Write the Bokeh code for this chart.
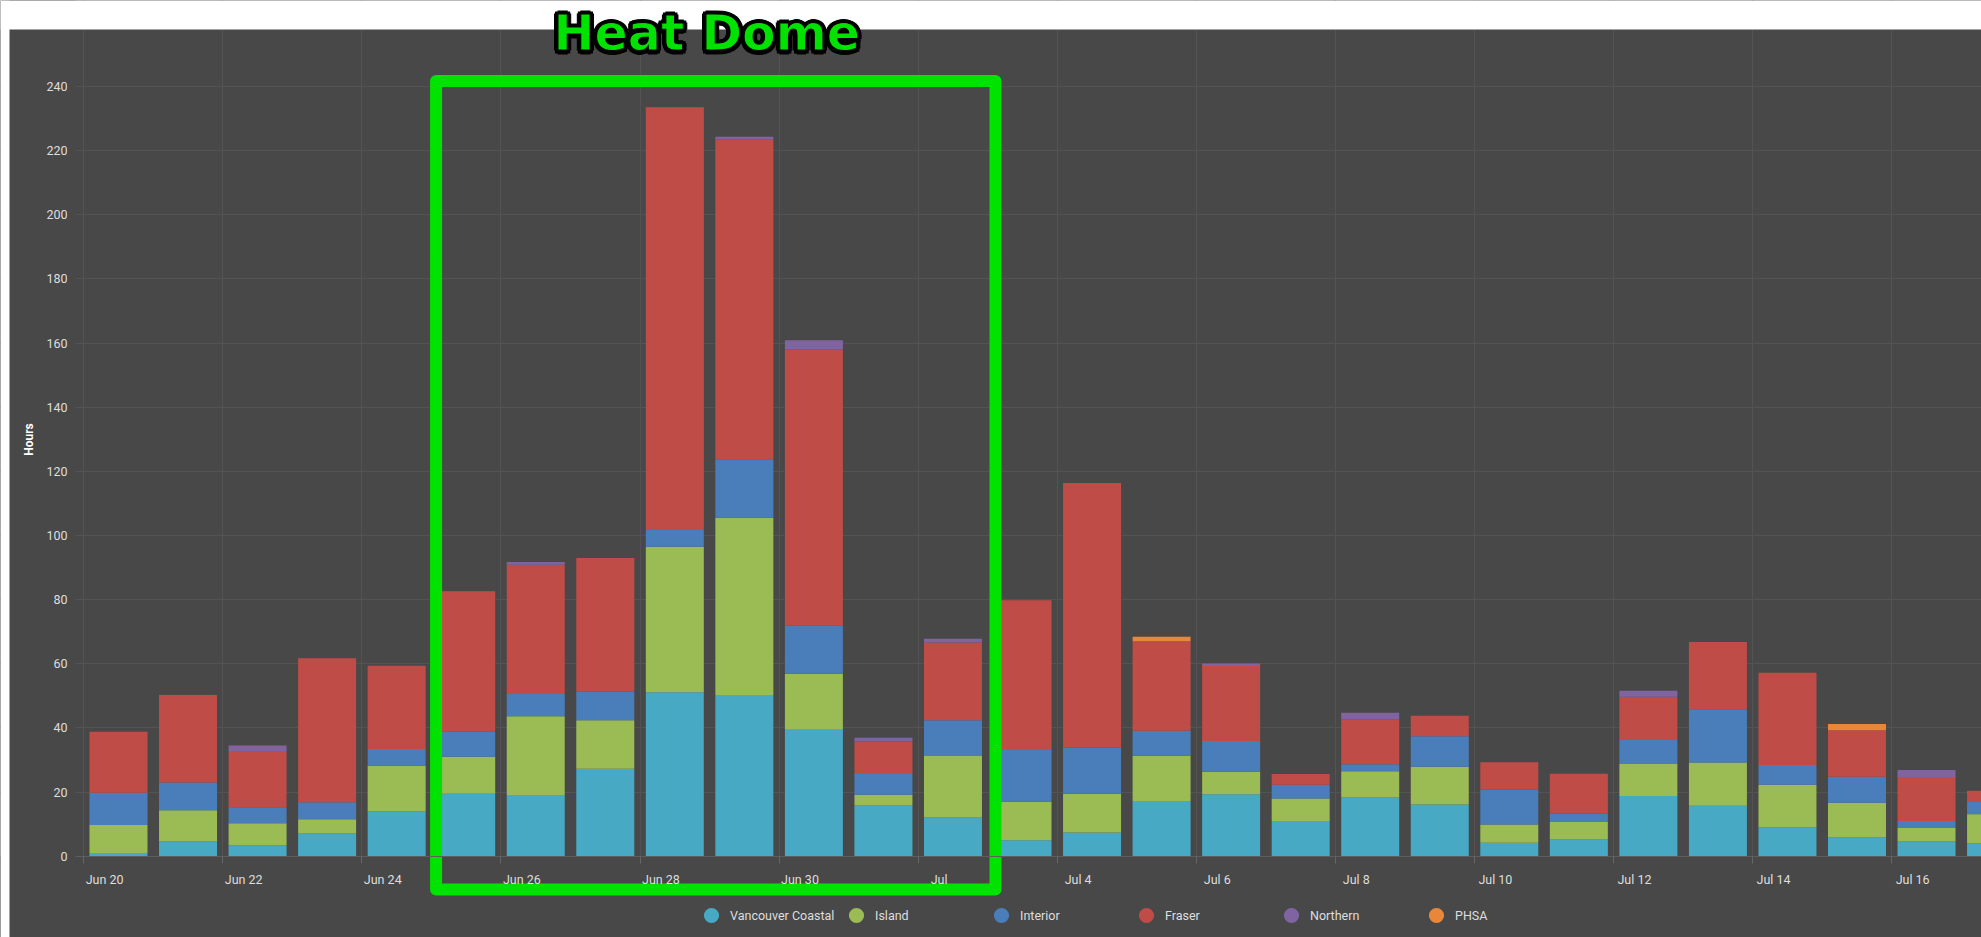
from bokeh.plotting import figure
from bokeh.models import (Range1d, FixedTicker, ColumnDataSource, Legend,
                          LegendItem, LinearAxis, Grid)
from bokeh.core.properties import value
from bokeh.embed import file_html
from bokeh.resources import INLINE

# ---------------- data ----------------
days = ["Jun 20", "Jun 21", "Jun 22", "Jun 23", "Jun 24", "Jun 25", "Jun 26",
        "Jun 27", "Jun 28", "Jun 29", "Jun 30", "Jul 1", "Jul 2", "Jul 3",
        "Jul 4", "Jul 5", "Jul 6", "Jul 7", "Jul 8", "Jul 9", "Jul 10",
        "Jul 11", "Jul 12", "Jul 13", "Jul 14", "Jul 15", "Jul 16", "Jul 17"]

vancouver_coastal = [1.0, 4.7, 3.4, 7.1, 13.9, 19.5, 19.1, 27.3, 51.1, 50.3, 39.4, 15.8, 12.1, 5.0,
                     7.4, 17.2, 19.3, 11.0, 18.3, 16.1, 4.2, 5.2, 18.8, 15.7, 9.0, 5.9, 4.6, 4.0]
island = [8.7, 9.6, 6.9, 4.4, 14.3, 11.5, 24.5, 15.1, 45.4, 55.2, 17.5, 3.4, 19.3, 12.0,
          12.1, 14.1, 7.0, 7.0, 8.2, 11.8, 5.7, 5.5, 10.1, 13.5, 13.3, 10.8, 4.2, 9.1]
interior = [10.1, 8.7, 5.0, 5.3, 5.2, 7.8, 7.0, 8.9, 5.2, 18.3, 15.0, 6.4, 11.0, 16.1,
            14.3, 7.8, 9.6, 4.3, 2.2, 9.5, 10.9, 2.5, 7.3, 16.6, 6.1, 8.1, 2.2, 3.8]
fraser = [19.0, 27.3, 17.5, 44.9, 26.0, 43.8, 40.3, 41.7, 131.8, 99.7, 86.1, 10.2, 24.2, 46.7,
          82.6, 27.9, 23.4, 3.3, 13.9, 6.4, 8.5, 12.5, 13.5, 21.0, 28.8, 14.5, 13.7, 3.5]
northern = [0, 0, 1.7, 0, 0, 0, 0.8, 0, 0, 0.8, 2.9, 1.1, 1.2, 0,
            0, 0, 0.8, 0, 2.1, 0, 0, 0, 1.9, 0, 0, 0, 2.2, 0]
phsa = [0, 0, 0, 0, 0, 0, 0, 0, 0, 0, 0, 0, 0, 0,
        0, 1.4, 0, 0, 0, 0, 0, 0, 0, 0, 0, 1.9, 0, 0]

series = ["Vancouver Coastal", "Island", "Interior", "Fraser", "Northern", "PHSA"]
colors = ["#48A9C5", "#9BBB55", "#4A7EBB", "#C04C48", "#8064A2", "#E8873A"]

tick_labels = ["Jun 20", "Jun 22", "Jun 24", "Jun 26", "Jun 28", "Jun 30", "Jul",
               "Jul 4", "Jul 6", "Jul 8", "Jul 10", "Jul 12", "Jul 14", "Jul 16"]
y_ticks = [0, 20, 40, 60, 80, 100, 120, 140, 160, 180, 200, 220, 240]

annotation_text = "Heat Dome"
y_title = "Hours"

# ---------------- layout constants ----------------
W, H = 1981, 937
DAY_PX = 69.54          # pixels per day
Y_PX = 3.207            # pixels per hour
X_START = -118 / DAY_PX  # data x at the left edge of the canvas
Y_ZERO_PX = 855.7       # canvas y of value 0 (from top)
X_END = X_START + W / DAY_PX
Y_END = Y_ZERO_PX / Y_PX
Y_START = Y_END - H / Y_PX
PLOT_LEFT = -0.618      # data x where the plotting area begins
PLOT_TOP = Y_END - 29 / Y_PX   # white strip above the chart
LEFT_WHITE = X_START + 9 / DAY_PX

BG = "#484848"
GRID = "#535353"
TXT = "#dedede"
GREEN = "#00E300"
FONT = "Roboto"

x = list(range(len(days)))
src = ColumnDataSource(dict(x=x, **{
    "Vancouver Coastal": vancouver_coastal, "Island": island, "Interior": interior,
    "Fraser": fraser, "Northern": northern, "PHSA": phsa}))

p = figure(width=W, height=H, x_range=Range1d(X_START, X_END),
           y_range=Range1d(Y_START, Y_END), x_axis_type=None, y_axis_type=None,
           output_backend="svg", toolbar_location=None, min_border=0,
           background_fill_color=BG, border_fill_color=BG, outline_line_color=None)

boundaries = [i - 0.5 for i in range(0, len(days), 2)]
label_ticks = [round(b + 0.3, 2) for b in boundaries]

p.add_layout(Grid(dimension=0, ticker=FixedTicker(ticks=boundaries),
                  grid_line_color=GRID, grid_line_width=1))
p.add_layout(Grid(dimension=1, ticker=FixedTicker(ticks=y_ticks),
                  grid_line_color=GRID, grid_line_width=1))

# covers outside the plotting area
p.quad(left=X_START, right=PLOT_LEFT, bottom=Y_START, top=Y_END, color=BG, line_color=None)
p.quad(left=X_START, right=X_END, bottom=Y_START, top=0, color=BG, line_color=None)
p.quad(left=X_START, right=X_END, bottom=PLOT_TOP, top=Y_END, color="white", line_color=None)
p.quad(left=X_START, right=LEFT_WHITE, bottom=Y_START, top=Y_END, color="white", line_color=None)

p.vbar_stack(series, x="x", width=0.834, source=src, fill_color=colors, line_color=None)

# axes
xaxis = LinearAxis(ticker=FixedTicker(ticks=label_ticks, minor_ticks=boundaries),
                   fixed_location=0, bounds=(PLOT_LEFT, X_END),
                   major_label_overrides={t: l for t, l in zip(label_ticks, tick_labels)},
                   axis_line_color="#5e5e5e", major_tick_line_color=None,
                   major_tick_out=0, major_tick_in=0,
                   minor_tick_line_color="#666666", minor_tick_out=7, minor_tick_in=0,
                   major_label_standoff=9, major_label_text_color=TXT,
                   major_label_text_font=FONT, major_label_text_font_size="12.5px")
p.add_layout(xaxis, "below")

yaxis = LinearAxis(ticker=FixedTicker(ticks=y_ticks), fixed_location=PLOT_LEFT,
                   bounds=(0, 260),
                   axis_line_color=None, major_tick_line_color=None, minor_tick_line_color=None,
                   major_tick_out=0, major_tick_in=0, major_label_standoff=8,
                   major_label_text_color=TXT, major_label_text_font=FONT,
                   major_label_text_font_size="12.5px",
                   axis_label=y_title, axis_label_text_color="white",
                   axis_label_text_font=FONT, axis_label_text_font_style="bold",
                   axis_label_text_font_size="12px", axis_label_standoff=7)
p.add_layout(yaxis, "left")

# heat dome annotation
p.quad(left=4.567, right=12.611, bottom=-10.4, top=241.7, fill_alpha=0,
       line_color=GREEN, line_width=12, line_join="round")
TX, TY = 8.46, Y_END - 33 / Y_PX
offs = [(3.5, 0), (-3.5, 0), (0, 3.5), (0, -3.5), (2.5, 2.5), (-2.5, 2.5), (2.5, -2.5), (-2.5, -2.5)]
shadow = ColumnDataSource(dict(x=[TX] * len(offs), y=[TY] * len(offs),
                               t=[annotation_text] * len(offs),
                               dx=[o[0] for o in offs], dy=[o[1] for o in offs]))
p.text(x="x", y="y", text="t", x_offset="dx", y_offset="dy", source=shadow,
       text_align="center", text_baseline="middle", text_font=value("DejaVu Sans"),
       text_font_style="bold", text_font_size="49px", text_color="black",
       text_outline_color="black")
p.text(x=[TX], y=[TY], text=[annotation_text], text_align="center",
       text_baseline="middle", text_font=value("DejaVu Sans"), text_font_style="bold",
       text_font_size="49px", text_color=GREEN, text_outline_color="black")

# legend (circle symbols; the dummy point lies outside the visible range)
items = []
for name, c in zip(series, colors):
    r = p.scatter(x=[X_END + 10], y=[Y_END + 10], marker="circle", size=16,
                  fill_color=c, line_color=None)
    items.append(LegendItem(label=name, renderers=[r]))
legend = Legend(items=items, orientation="horizontal", location=(692, 3),
                glyph_width=38, glyph_height=38, label_standoff=0, label_width=107,
                spacing=0, padding=0, margin=0, border_line_color=None,
                background_fill_alpha=0, label_text_color=TXT,
                label_text_font=FONT, label_text_font_size="12.5px")
p.add_layout(legend)

open("out.html", "w").write(file_html(p, INLINE))
